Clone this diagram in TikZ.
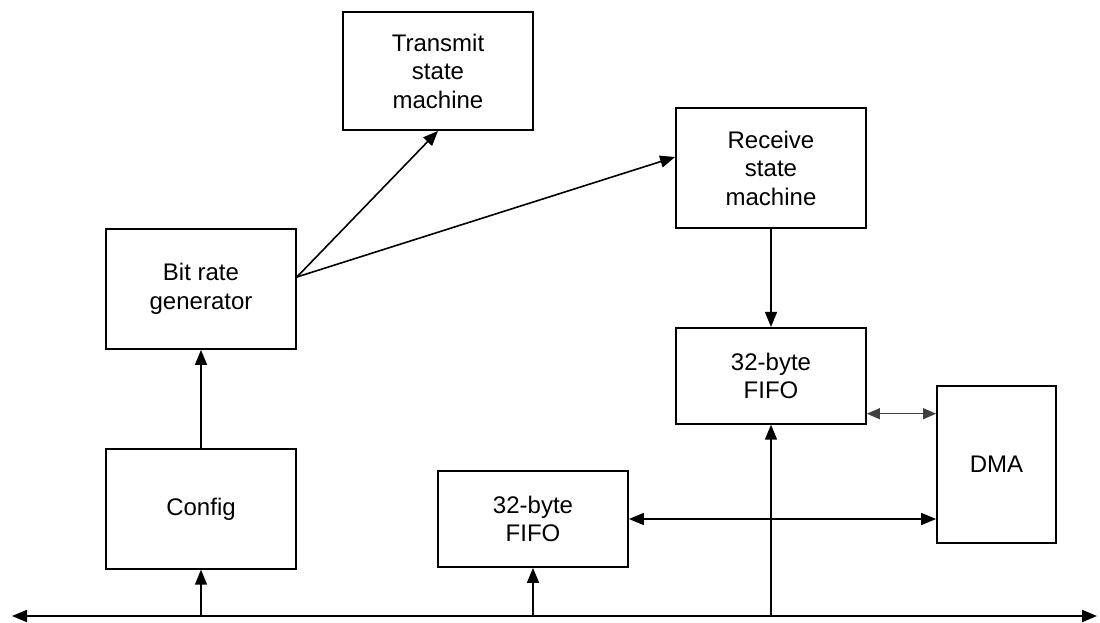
\documentclass[tikz,border=0pt]{standalone}
\usepackage{fontspec}
\setmainfont{Liberation Sans}
\usetikzlibrary{arrows.meta,positioning}

\begin{document}
\begin{tikzpicture}[x=1pt,y=-1pt,node distance=98pt,
  blk/.style={draw,line width=1.8pt,minimum width=190pt,minimum height=120pt,
      inner sep=0pt,align=center,font=\fontsize{24}{28.5}\selectfont},
  arr/.style={-{Triangle[length=15pt,width=12pt]},line width=1.6pt},
  darr/.style={{Triangle[length=15pt,width=12pt]}-{Triangle[length=15pt,width=12pt]},line width=1.6pt}]
\useasboundingbox (0,0) rectangle (1100,623);
\node[blk] (bitgen) at (201,289) {Bit rate\\generator};
\node[blk,below=of bitgen] (cfg) {Config};
\node[blk,minimum height=118pt] (txsm) at (438,71) {Transmit\\state\\machine};
\node[blk] (rxsm) at (771,168) {Receive\\state\\machine};
\node[blk,below=of rxsm,minimum height=96pt] (rxfifo) {32-byte\\FIFO};
\node[blk,minimum height=96pt] (txfifo) at (533,519) {32-byte\\FIFO};
\node[blk,minimum width=119pt,minimum height=157pt] (dma) at (996.5,464.5) {DMA};
% system bus
\coordinate (busL) at (12,616);
\coordinate (busR) at (1097,616);
\draw[darr,line width=2pt] (busL) -- (busR);
\draw[arr] (cfg.south |- busL) -- (cfg.south);
\draw[arr] (txfifo.south |- busL) -- (txfifo.south);
\draw[arr] (rxfifo.south |- busL) -- (rxfifo.south);
% clocks and data paths
\draw[arr] (cfg) -- (bitgen);
\draw[arr] ([yshift=12pt]bitgen.east) -- (txsm.south);
\draw[arr] ([yshift=12pt]bitgen.east) -- ([yshift=11pt]rxsm.west);
\draw[arr] (rxsm) -- (rxfifo);
\draw[darr] (txfifo.east) -- (txfifo.east -| dma.west);
\draw[{Triangle[length=13pt,width=11pt]}-{Triangle[length=13pt,width=11pt]},line width=1.2pt,black!75]
  ([yshift=11pt]rxfifo.south east) -- ([yshift=11pt]rxfifo.south east -| dma.west);
\end{tikzpicture}
\end{document}
